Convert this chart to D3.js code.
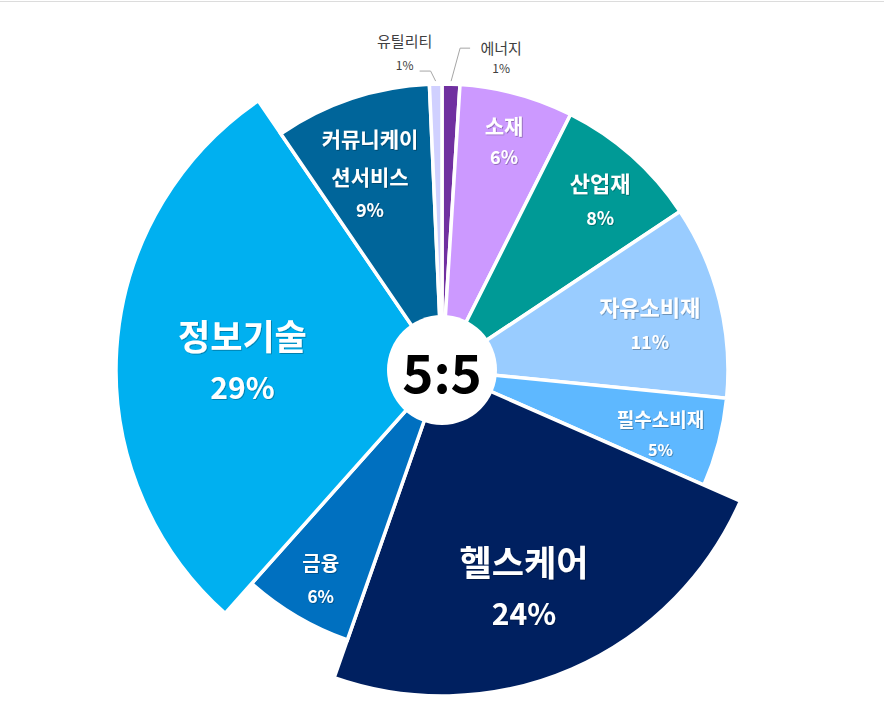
<!DOCTYPE html>
<html>
<head>
<meta charset="utf-8">
<script src="https://cdn.jsdelivr.net/npm/d3@7"></script>
<style>
  body { margin: 0; background: #fff; }
  text { font-family: "Noto Sans CJK KR", "Noto Sans", sans-serif; }
</style>
</head>
<body>
<script>
'use strict';

// Sector weights, clockwise from 12 o'clock
var sectors   = ["에너지", "소재", "산업재", "자유소비재", "필수소비재", "헬스케어", "금융", "정보기술", "커뮤니케이션서비스", "유틸리티"];
var weights   = [1.0, 6.4, 8.2, 10.9, 5.0, 23.7, 6.2, 28.8, 8.8, 0.7];
var pctLabels = ["1%", "6%", "8%", "11%", "5%", "24%", "6%", "29%", "9%", "1%"];
var nameLines = [["에너지"], ["소재"], ["산업재"], ["자유소비재"], ["필수소비재"], ["헬스케어"], ["금융"], ["정보기술"], ["커뮤니케이", "션서비스"], ["유틸리티"]];
var enlarged  = ["헬스케어", "정보기술"];
var centerLabel = "5:5";

(function() {

   var width = 884;
   var height = 703;
   var cx = 442, cy = 370;
   var baseRadius = 286, bigRadius = 326, holeRadius = 55;

   var colors = d3.scaleOrdinal()
       .domain( sectors )
       .range( ["#7030A0", "#CC99FF", "#009A96", "#99CCFF", "#5EB8FF", "#002060", "#0070C0", "#00B0F0", "#00659A", "#D0D0FF"] );

   // label layout: radius of anchor, small nudge, font sizes, line gaps
   var inside = {
     "소재":              { r: 241, nudge: [-1, 3],  size: 21, pctSize: 18, gap: 31 },
     "산업재":            { r: 228, nudge: [7, 0],   size: 22, pctSize: 18, gap: 35 },
     "자유소비재":        { r: 211, nudge: [3, 5],   size: 22, pctSize: 18, gap: 35 },
     "필수소비재":        { r: 228, nudge: [-2, 6],  size: 19, pctSize: 16, gap: 30 },
     "헬스케어":          { r: 236, nudge: [-12, 0], size: 35, pctSize: 30, gap: 51 },
     "금융":              { r: 241, nudge: [1, 1],   size: 20, pctSize: 17, gap: 33 },
     "정보기술":          { r: 197, nudge: [-3, 3],  size: 35, pctSize: 30, gap: 52 },
     "커뮤니케이션서비스": { r: 209, nudge: [-6, 2],  size: 21, pctSize: 18, gap: 33, lineGap: 38 }
   };
   var outside = {
     "에너지":   { label: [50, -24], elbow: [9, -33],  tail: 10,  gap: 20 },
     "유틸리티": { label: [-31, -29], elbow: [-5, -10], tail: -11, gap: 24 }
   };

   var svg = d3.select( "body" )
       .append( "svg" )
       .attr( "width", width )
       .attr( "height", height );

   // faint frame edge at the very top
   svg.append( "line" )
       .attr( "x1", 0 ).attr( "x2", width )
       .attr( "y1", 1.5 ).attr( "y2", 1.5 )
       .attr( "stroke", "#dcdcdc" )
       .attr( "stroke-width", 1 );

   var shade = svg.append( "defs" )
       .append( "filter" )
       .attr( "id", "shade" )
       .attr( "x", "-10%" ).attr( "y", "-10%" )
       .attr( "width", "120%" ).attr( "height", "130%" );
   shade.append( "feDropShadow" )
       .attr( "dx", 0.8 ).attr( "dy", 0.8 )
       .attr( "stdDeviation", 0.6 )
       .attr( "flood-color", "#000" )
       .attr( "flood-opacity", 0.35 );

   var g = svg.append( "g" )
       .attr( "transform", "translate(" + cx + "," + cy + ")" );

   var rows = sectors.map( function(s, i) {
     return { name: s, value: weights[i], pct: pctLabels[i], lines: nameLines[i] };
   });

   var pie = d3.pie()
       .sort( null )
       .value( function(d) { return d.value; } );
   var arcs = pie( rows );

   function outerR(d) {
     return enlarged.indexOf( d.data.name ) >= 0 ? bigRadius : baseRadius;
   }

   var arc = d3.arc()
       .innerRadius( 0 )
       .outerRadius( outerR );

   g.selectAll( "path.slice" )
       .data( arcs )
       .enter()
       .append( "path" )
       .attr( "class", "slice" )
       .attr( "d", arc )
       .attr( "fill", function(d) { return colors( d.data.name ); } )
       .attr( "stroke", "#fff" )
       .attr( "stroke-width", 3.5 );

   // centre hole
   g.append( "circle" )
       .attr( "r", holeRadius )
       .attr( "fill", "#fff" );
   g.append( "text" )
       .attr( "text-anchor", "middle" )
       .attr( "dominant-baseline", "central" )
       .attr( "y", 0 )
       .attr( "font-size", 53 )
       .attr( "font-weight", "bold" )
       .attr( "fill", "#000" )
       .text( centerLabel );

   // labels inside the slices
   arcs.filter( function(d) { return inside[d.data.name]; } ).forEach( function(d) {
     var cfg = inside[d.data.name];
     var p = d3.arc().innerRadius( cfg.r ).outerRadius( cfg.r ).centroid( d );
     var x = p[0] + cfg.nudge[0], y = p[1] + cfg.nudge[1];
     var lineGap = cfg.lineGap || cfg.gap;
     var n = d.data.lines.length;
     var total = (n - 1) * lineGap + cfg.gap;
     var top = y - total / 2;
     var lbl = g.append( "g" ).attr( "filter", "url(#shade)" );
     d.data.lines.forEach( function(t, i) {
       lbl.append( "text" )
           .attr( "x", x )
           .attr( "y", top + i * lineGap )
           .attr( "text-anchor", "middle" )
           .attr( "dominant-baseline", "central" )
           .attr( "font-size", cfg.size )
           .attr( "font-weight", "bold" )
           .attr( "fill", "#fff" )
           .text( t );
     });
     lbl.append( "text" )
         .attr( "x", x )
         .attr( "y", top + total )
         .attr( "text-anchor", "middle" )
         .attr( "dominant-baseline", "central" )
         .attr( "font-size", cfg.pctSize )
         .attr( "font-weight", "bold" )
         .attr( "fill", "#fff" )
         .text( d.data.pct );
   });

   // small outside labels with leader lines
   arcs.filter( function(d) { return outside[d.data.name]; } ).forEach( function(d) {
     var cfg = outside[d.data.name];
     var r = outerR( d ) + 3;
     var e = d3.arc().innerRadius( r ).outerRadius( r ).centroid( d );
     var elbow = [e[0] + cfg.elbow[0], e[1] + cfg.elbow[1]];
     g.append( "path" )
         .attr( "d", d3.line()( [e, elbow, [elbow[0] + cfg.tail, elbow[1]]] ) )
         .attr( "fill", "none" )
         .attr( "stroke", "#a6a6a6" )
         .attr( "stroke-width", 1 );
     var lx = e[0] + cfg.label[0], ly = e[1] + cfg.label[1];
     g.append( "text" )
         .attr( "x", lx )
         .attr( "y", ly - cfg.gap / 2 )
         .attr( "text-anchor", "middle" )
         .attr( "dominant-baseline", "central" )
         .attr( "font-size", 15 )
         .attr( "fill", "#404040" )
         .text( d.data.lines[0] );
     g.append( "text" )
         .attr( "x", lx )
         .attr( "y", ly + cfg.gap / 2 )
         .attr( "text-anchor", "middle" )
         .attr( "dominant-baseline", "central" )
         .attr( "font-size", 12 )
         .attr( "fill", "#404040" )
         .text( d.data.pct );
   });

})();
</script>
</body>
</html>
